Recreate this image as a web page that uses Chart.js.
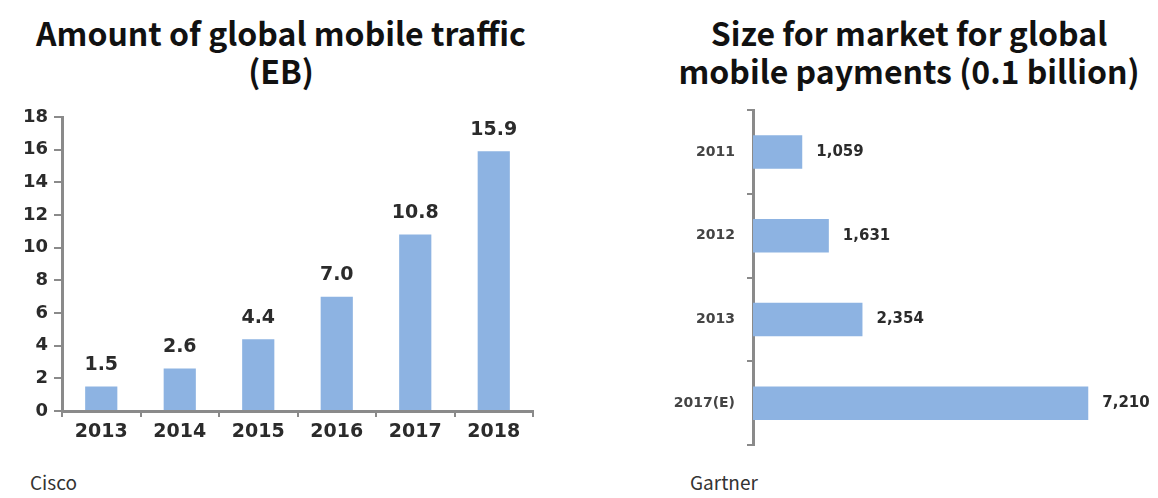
<!DOCTYPE html>
<html lang="en">
<head>
    <meta charset="UTF-8">
    <title>Mobile traffic and mobile payments</title>
    <script src="https://cdn.jsdelivr.net/npm/chart.js"></script>
    <style>
        body {
            margin: 0;
            width: 1158px;
            height: 498px;
            background: #fff;
            position: relative;
            overflow: hidden;
            font-family: 'Noto Sans CJK KR', 'Noto Sans', sans-serif;
        }
        .title {
            position: absolute;
            top: 13px;
            text-align: center;
            font-weight: bold;
            font-size: 32px;
            line-height: 38px;
            color: #111;
        }
        #title1 { left: 0; width: 562px; }
        #title2 { left: 660px; width: 498px; }
        .source {
            position: absolute;
            top: 468px;
            font-size: 19px;
            color: #333;
        }
        #box1 { position: absolute; left: 0; top: 100px; width: 545px; height: 355px; }
        #box2 { position: absolute; left: 640px; top: 100px; width: 518px; height: 360px; }
    </style>
</head>
<body>
    <div class="title" id="title1">Amount of global mobile traffic<br>(EB)</div>
    <div class="title" id="title2">Size for market for global<br>mobile payments (0.1 billion)</div>
    <div id="box1"><canvas id="trafficChart"></canvas></div>
    <div id="box2"><canvas id="paymentChart"></canvas></div>
    <div class="source" style="left:30px">Cisco</div>
    <div class="source" style="left:690px">Gartner</div>
    <script>
        // dane
        const trafficYears = ['2013', '2014', '2015', '2016', '2017', '2018'];
        const trafficValues = [1.5, 2.6, 4.4, 7.0, 10.8, 15.9];
        const trafficTicks = [0, 2, 4, 6, 8, 10, 12, 14, 16, 18];

        const paymentYears = ['2011', '2012', '2013', '2017(E)'];
        const paymentValues = [1059, 1631, 2354, 7210];

        const barColor = '#8db3e2';
        const axisColor = '#8a8a8a';
        const textColor = '#2b2b2b';

        // etykiety z wartościami nad słupkami
        function valueLabels(format, font, offset, horizontal) {
            return {
                id: 'valueLabels',
                afterDatasetsDraw(chart) {
                    const ctx = chart.ctx;
                    const values = chart.data.datasets[0].data;
                    ctx.save();
                    ctx.font = font;
                    ctx.fillStyle = textColor;
                    chart.getDatasetMeta(0).data.forEach((bar, i) => {
                        const text = format(values[i]);
                        if (horizontal) {
                            ctx.textAlign = 'left';
                            ctx.textBaseline = 'middle';
                            ctx.fillText(text, bar.x + offset, bar.y);
                        } else {
                            ctx.textAlign = 'center';
                            ctx.textBaseline = 'bottom';
                            ctx.fillText(text, bar.x, bar.y - offset);
                        }
                    });
                    ctx.restore();
                }
            };
        }

        new Chart(document.getElementById('trafficChart'), {
            type: 'bar',
            data: {
                labels: trafficYears,
                datasets: [{
                    data: trafficValues,
                    backgroundColor: barColor,
                    barPercentage: 0.41,
                    categoryPercentage: 1
                }]
            },
            options: {
                responsive: true,
                maintainAspectRatio: false,
                animation: false,
                layout: { padding: { top: 17, right: 12, left: 0, bottom: 0 } },
                plugins: { legend: { display: false }, tooltip: { enabled: false } },
                scales: {
                    x: {
                        grid: { drawOnChartArea: false, drawTicks: true, tickLength: 6, color: axisColor, lineWidth: 2 },
                        border: { color: axisColor, width: 3 },
                        ticks: { color: textColor, font: { family: 'DejaVu Sans', weight: 'bold', size: 19 }, padding: 4 },
                        afterFit: function (scale) { scale.height = 44; }
                    },
                    y: {
                        min: 0,
                        max: 18,
                        afterBuildTicks: function (scale) { scale.ticks = trafficTicks.map(v => ({ value: v })); },
                        grid: { drawOnChartArea: false, drawTicks: true, tickLength: 8, color: axisColor, lineWidth: 2 },
                        border: { color: axisColor, width: 3 },
                        ticks: { color: textColor, font: { family: 'DejaVu Sans', weight: 'bold', size: 18 }, padding: 6 },
                        afterFit: function (scale) { scale.width = 62; }
                    }
                }
            },
            plugins: [valueLabels(v => v.toFixed(1), 'bold 19px "DejaVu Sans"', 12, false)]
        });

        new Chart(document.getElementById('paymentChart'), {
            type: 'bar',
            data: {
                labels: paymentYears,
                datasets: [{
                    data: paymentValues,
                    backgroundColor: barColor,
                    barPercentage: 0.4,
                    categoryPercentage: 1
                }]
            },
            options: {
                indexAxis: 'y',
                responsive: true,
                maintainAspectRatio: false,
                animation: false,
                layout: { padding: { top: 10, right: 33, left: 0, bottom: 15 } },
                plugins: { legend: { display: false }, tooltip: { enabled: false } },
                scales: {
                    x: { display: false, min: 0, max: 8000 },
                    y: {
                        grid: { drawOnChartArea: false, drawTicks: true, tickLength: 6, color: axisColor, lineWidth: 2 },
                        border: { color: axisColor, width: 3 },
                        ticks: { color: '#444', font: { family: 'DejaVu Sans', weight: 'bold', size: 14 }, padding: 12 },
                        afterFit: function (scale) {
                            scale.width = 113;
                            scale.paddingTop = 0;
                            scale.paddingBottom = 0;
                        }
                    }
                }
            },
            plugins: [valueLabels(v => v.toLocaleString('en-US'), 'bold 15px "DejaVu Sans"', 14, true)]
        });
    </script>
</body>
</html>
